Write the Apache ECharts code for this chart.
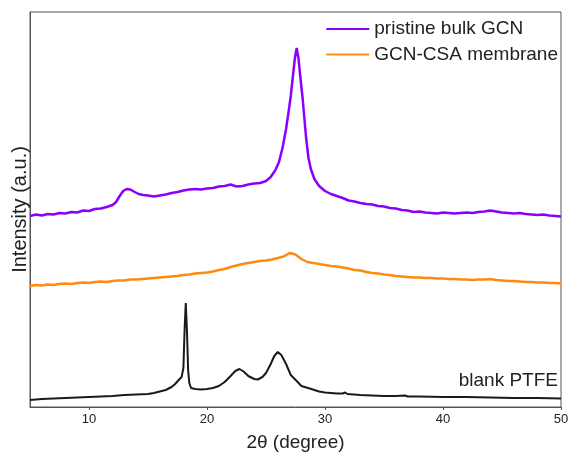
<!DOCTYPE html>
<html>
<head>
<meta charset="utf-8">
<script src="https://cdn.jsdelivr.net/npm/echarts@6/dist/echarts.min.js"></script>
<style>html,body{margin:0;padding:0;background:#fff}#c{width:568px;height:454px}</style>
</head>
<body>
<div id="c"></div>
<script>
// 2θ positions and intensities (arbitrary units, offset per curve as in the figure)
const gcnX = [5,5.5,6,6.5,7,7.5,8,8.5,9,9.5,10,10.5,11,11.5,12,12.3,12.6,12.9,13.2,13.5,13.8,14.2,14.6,15,15.5,16,16.5,17,17.5,18,18.5,19,19.5,20,20.5,21,21.5,22,22.5,23,23.5,24,24.5,25,25.4,25.8,26.1,26.4,26.7,26.9,27.1,27.3,27.45,27.6,27.75,27.9,28.1,28.25,28.4,28.6,28.8,29.1,29.5,30,30.5,31,31.5,32,32.5,33,33.5,34,34.5,35,35.5,36,36.5,37,37.5,38,38.5,39,39.5,40,40.5,41,41.5,42,42.5,43,43.5,44,44.5,45,45.5,46,46.5,47,47.5,48,48.5,49,49.5,50];
const gcnY = [194,195.5,194.5,196,195.5,197,196.5,198,197.5,199.5,199,201,201.5,203,205,208,214,219,221,220.5,218.5,216,215,214.5,213.5,214.5,215.5,217,218,219.5,220.5,221,220.5,221.5,222,223.5,224,225.5,223.5,224,225.5,226.5,227,229,233,240,248,262,281,297,314,336,352,362,352,334,312,292,272,252,241,231,224,219,216,214,212,209.5,208.5,207,206,205.5,204,203.5,202,201.5,200,199.5,198,198.5,197.5,197,196.5,197.5,197,196.5,197,197.5,197,198,198.5,199.5,198.5,197.5,197,196.5,197,196,195.5,195,195.5,194.5,194,193.5];

const csaX = [5,5.5,6,6.5,7,7.5,8,8.5,9,9.5,10,10.5,11,11.5,12,12.5,13,13.5,14,14.5,15,15.5,16,16.5,17,17.5,18,18.5,19,19.5,20,20.5,21,21.5,22,22.5,23,23.5,24,24.5,25,25.5,26,26.5,27,27.5,28,28.5,29,29.5,30,30.5,31,31.5,32,32.5,33,33.5,34,34.5,35,35.5,36,36.5,37,37.5,38,38.5,39,39.5,40,40.5,41,41.5,42,42.5,43,43.5,44,44.5,45,45.5,46,46.5,47,47.5,48,48.5,49,49.5,50];
const csaY = [124,125,124.5,125.5,125,126,126.5,126,127,127.5,127,128,128.5,128,129,129.5,129.5,130.5,130.5,131,131.5,132,132.5,133,133.5,134,135,135.5,136.5,137,137.5,138.5,140,141,143,144.5,146,147,148,149,149.5,150.5,152,153.5,157,155.5,151,148,147,146,145,144,143.5,142.5,141.5,140,139.5,138,137,136.5,135.5,135,134,133.5,133,132.5,132.5,132,132,131.5,131.5,131,131,130.5,130.5,130,130.5,130.5,131,130,129.5,129,129,128.5,128,128,127.5,127.5,127,127,126.5];

const ptfeX = [5,6,7,8,9,10,11,12,13,14,15,15.5,16,16.5,17,17.3,17.6,17.85,18.0,18.1,18.2,18.3,18.4,18.5,18.65,19,19.5,20,20.5,21,21.5,22,22.4,22.75,23.1,23.5,24,24.3,24.7,25,25.4,25.7,26.0,26.3,26.7,27.1,27.6,28,28.7,29.5,30,31,31.5,31.7,31.9,33,34,35,36,36.8,37,38,40,42,44,46,48,50];
const ptfeY = [10,11,11.5,12,12.5,13,13.5,14,15,15.5,16,17,18.5,20,23,26,30,33,42,80,107,80,40,27,22,21,20.5,21,22,24,28,34,39,41,38.5,34,31,30.5,33,37,46,54,58,55,46,35,29,24,21.5,18.5,17.5,16.5,16.5,17.5,16,15,14.5,14,14,14.5,13.5,13.5,13,13,12.5,12,12,11.5];

const seriesNames = ['pristine bulk GCN', 'GCN-CSA membrane', 'blank PTFE'];
const xTicks = [10, 20, 30, 40, 50];

const zip = (xs, ys) => xs.map((x, i) => [x, ys[i]]);
const chart = echarts.init(document.getElementById('c'), null, {renderer: 'canvas'});
const font = '"Liberation Sans", Arial, sans-serif';
chart.setOption({
  animation: false,
  backgroundColor: '#ffffff',
  grid: {left: 30, right: 7, top: 12, bottom: 47, show: true, borderColor: '#555', borderWidth: 1,
         containLabel: false, outerBoundsMode: 'none'},
  legend: {
    data: [seriesNames[0], seriesNames[1]],
    orient: 'vertical', right: 10, top: 19, padding: 0,
    itemWidth: 43, itemHeight: 2, itemGap: 5.5, icon: 'rect',
    textStyle: {fontFamily: font, fontSize: 19, color: '#222', lineHeight: 20}
  },
  xAxis: {
    type: 'value', min: 5, max: 50, interval: 5,
    name: '2θ (degree)', nameLocation: 'middle', nameGap: 26,
    nameTextStyle: {fontFamily: font, fontSize: 19, color: '#222'},
    axisLine: {show: true, lineStyle: {color: '#555'}},
    axisTick: {show: true, length: 3, lineStyle: {color: '#555'}, customValues: xTicks},
    axisLabel: {fontFamily: font, fontSize: 13, color: '#222', margin: 6, customValues: xTicks},
    splitLine: {show: false}
  },
  yAxis: {
    type: 'value', min: 3, max: 398,
    name: 'Intensity (a.u.)', nameLocation: 'middle', nameGap: 0,
    nameTextStyle: {fontFamily: font, fontSize: 20, color: '#222'},
    axisLine: {show: true, lineStyle: {color: '#555'}},
    axisTick: {show: false}, axisLabel: {show: false}, splitLine: {show: false}
  },
  graphic: [{type: 'text', right: 10, top: 371, style: {text: seriesNames[2], font: '19px ' + font, fill: '#222'}}],
  series: [
    {name: seriesNames[0], type: 'line', data: zip(gcnX, gcnY), showSymbol: false, color: '#8a00ff', lineStyle: {width: 2.5, color: '#8a00ff'}},
    {name: seriesNames[1], type: 'line', data: zip(csaX, csaY), showSymbol: false, color: '#ff8a10', lineStyle: {width: 2.5, color: '#ff8a10'}},
    {name: seriesNames[2], type: 'line', data: zip(ptfeX, ptfeY), showSymbol: false, color: '#1a1a1a', lineStyle: {width: 2, color: '#1a1a1a'}}
  ]
});
</script>
</body>
</html>
